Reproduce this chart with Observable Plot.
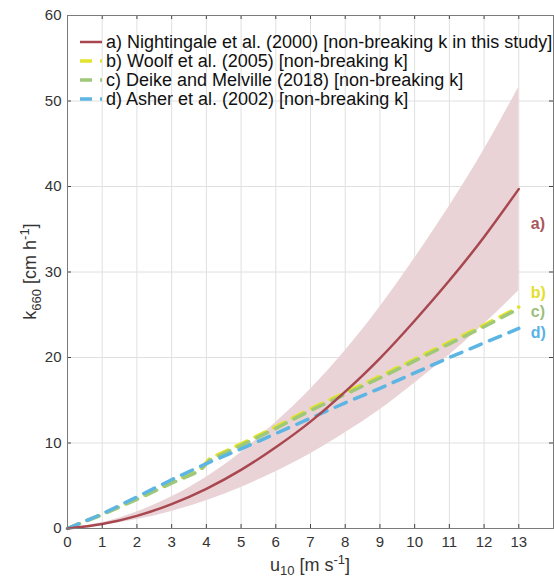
<!DOCTYPE html>
<html>
<head>
<meta charset="utf-8">
<script src="https://cdn.jsdelivr.net/npm/d3@7"></script>
<script src="https://cdn.jsdelivr.net/npm/@observablehq/plot@0.6"></script>
<style>
  html, body { margin: 0; padding: 0; background: #fff; }
  #chart svg { display: block; }
</style>
</head>
<body>
<div id="chart"></div>
<script>
// ---- data ----
const uA = [0,1,2,3,4,5,6,7,8,9,10,11,12,13];
const kNightingale = [0,0.53,1.48,2.85,4.64,6.85,9.5,12.5,16.0,19.9,24.3,29.0,34.1,39.7];
const kNightUpper  = [0,0.69,1.92,3.7,6.0,8.9,12.4,16.3,20.8,25.9,31.6,37.7,44.3,51.6];
const kNightLower  = [0,0.37,1.04,2.0,3.25,4.8,6.65,8.75,11.2,13.9,17.0,20.3,23.9,27.8];

const uBC = [0,1,2,3,3.8,4.1,5,6,7,8,9,10,11,12,13];
const kWoolf = [0,1.7,3.5,5.4,6.8,8.2,9.9,11.9,14.0,15.9,17.8,19.8,21.8,23.8,25.9];
const kDeike = [0,1.6,3.4,5.3,6.7,8.0,9.7,11.7,13.8,15.7,17.6,19.6,21.6,23.6,25.7];

const uD = [0,1,2,3,4,5,6,7,8,9,10,11,12,13];
const kAsher = [0,1.7,3.7,5.7,7.6,9.3,11.1,12.9,14.7,16.4,18.2,20.0,21.7,23.4];

const xTicks = [0,1,2,3,4,5,6,7,8,9,10,11,12,13];
const yTicks = [0,10,20,30,40,50,60];

const legendLabels = [
  "a) Nightingale et al. (2000) [non-breaking k in this study]",
  "b) Woolf et al. (2005) [non-breaking k]",
  "c) Deike and Melville (2018) [non-breaking k]",
  "d) Asher et al. (2002) [non-breaking k]"
];
const endLabels = ["a)", "b)", "c)", "d)"];

// ---- styles ----
const colRed = "#a8474f", colBand = "#e9d3d6", colYellow = "#e3e22c", colGreen = "#9fc878", colBlue = "#5cb5e3";
const endColors = ["#a8575e", "#e2e02a", "#9cbf7e", "#5ab3e5"];
const font = "'Liberation Sans', Arial, sans-serif";
const dash = "12,9";

const nA = uA.map((u,i) => ({u, k: kNightingale[i], lo: kNightLower[i], hi: kNightUpper[i]}));
const nB = uBC.map((u,i) => ({u, k: kWoolf[i]}));
const nC = uBC.map((u,i) => ({u, k: kDeike[i]}));
const nD = uD.map((u,i) => ({u, k: kAsher[i]}));
const series = [nA, nB, nC, nD];
const labelDy = [35, -14, 3, 4];

const W = 554, H = 580, mL = 67, mR = 1, mT = 15, mB = 52;
const innerH = H - mT - mB, innerW = W - mL - mR;

const endMarks = series.map((s, i) =>
  Plot.text([s[s.length - 1]], {x: "u", y: "k", text: () => endLabels[i], fill: endColors[i],
    dx: 12, dy: labelDy[i], textAnchor: "start", fontSize: 16, fontWeight: 600})
);

const plot = Plot.plot({
  width: W, height: H,
  marginLeft: mL, marginRight: mR, marginTop: mT, marginBottom: mB,
  style: {fontFamily: font, background: "#fff"},
  x: {domain: [0, 14]},
  y: {domain: [0, 60]},
  marks: [
    Plot.ruleX(xTicks.slice(1), {x: d => d, stroke: "#e0e0e0", strokeWidth: 1}),
    Plot.ruleY(yTicks.slice(1, -1), {y: d => d, stroke: "#e0e0e0", strokeWidth: 1}),
    Plot.areaY(nA, {x: "u", y1: "lo", y2: "hi", fill: colBand, curve: "natural"}),
    Plot.line(nB, {x: "u", y: "k", stroke: colYellow, strokeWidth: 3.5, strokeDasharray: dash}),
    Plot.line(nC, {x: "u", y: "k", stroke: colGreen, strokeWidth: 3.5, strokeDasharray: dash, strokeDashoffset: -1}),
    Plot.line(nD, {x: "u", y: "k", stroke: colBlue, strokeWidth: 3.5, strokeDasharray: dash}),
    Plot.line(nA, {x: "u", y: "k", stroke: colRed, strokeWidth: 2.5, curve: "natural"}),
    ...endMarks,
    // inward ticks
    Plot.tickX(xTicks, {x: d => d, insetTop: innerH - 4, stroke: "#444"}),
    Plot.tickX(xTicks, {x: d => d, insetBottom: innerH - 4, stroke: "#444"}),
    Plot.tickY(yTicks, {y: d => d, insetRight: innerW - 4, stroke: "#444"}),
    Plot.tickY(yTicks, {y: d => d, insetLeft: innerW - 4, stroke: "#444"}),
    Plot.frame({stroke: "#7a7a7a", strokeWidth: 1}),
    Plot.axisX({ticks: xTicks, tickSize: 0, tickPadding: 8, label: null, fontSize: 15, color: "#333"}),
    Plot.axisY({ticks: yTicks, tickSize: 0, tickPadding: 6, label: null, fontSize: 15, color: "#333"})
  ]
});

const svg = d3.select(plot);

// axis titles with sub/superscripts
const xl = svg.append("text").attr("x", mL + innerW / 2).attr("y", 571)
  .attr("text-anchor", "middle").attr("font-family", font).attr("font-size", 18).attr("fill", "#333");
xl.append("tspan").text("u");
xl.append("tspan").attr("dy", 4).attr("font-size", 13).text("10");
xl.append("tspan").attr("dy", -4).text(" [m s");
xl.append("tspan").attr("dy", -7).attr("font-size", 13).text("-1");
xl.append("tspan").attr("dy", 7).text("]");

const yl = svg.append("text").attr("transform", `translate(36,${mT + innerH / 2}) rotate(-90)`)
  .attr("text-anchor", "middle").attr("font-family", font).attr("font-size", 18).attr("fill", "#333");
yl.append("tspan").text("k");
yl.append("tspan").attr("dy", 5).attr("font-size", 13).text("660");
yl.append("tspan").attr("dy", -5).text(" [cm h");
yl.append("tspan").attr("dy", -7).attr("font-size", 13).text("-1");
yl.append("tspan").attr("dy", 7).text("]");

// legend
const legColors = [colRed, colYellow, colGreen, colBlue];
const lg = svg.append("g").attr("text-anchor", "start");
legendLabels.forEach((t, i) => {
  const y = 42 + i * 19;
  lg.append("line").attr("x1", 80).attr("x2", 102).attr("y1", y).attr("y2", y)
    .attr("stroke", legColors[i]).attr("stroke-width", i === 0 ? 2.5 : 3.5)
    .attr("stroke-dasharray", i === 0 ? null : "12,8");
  lg.append("text").attr("x", 106).attr("y", y).attr("dy", "0.35em").attr("text-anchor", "start")
    .attr("font-family", font).attr("font-size", 18).attr("fill", "#111").text(t);
});

document.getElementById("chart").appendChild(plot);
</script>
</body>
</html>
